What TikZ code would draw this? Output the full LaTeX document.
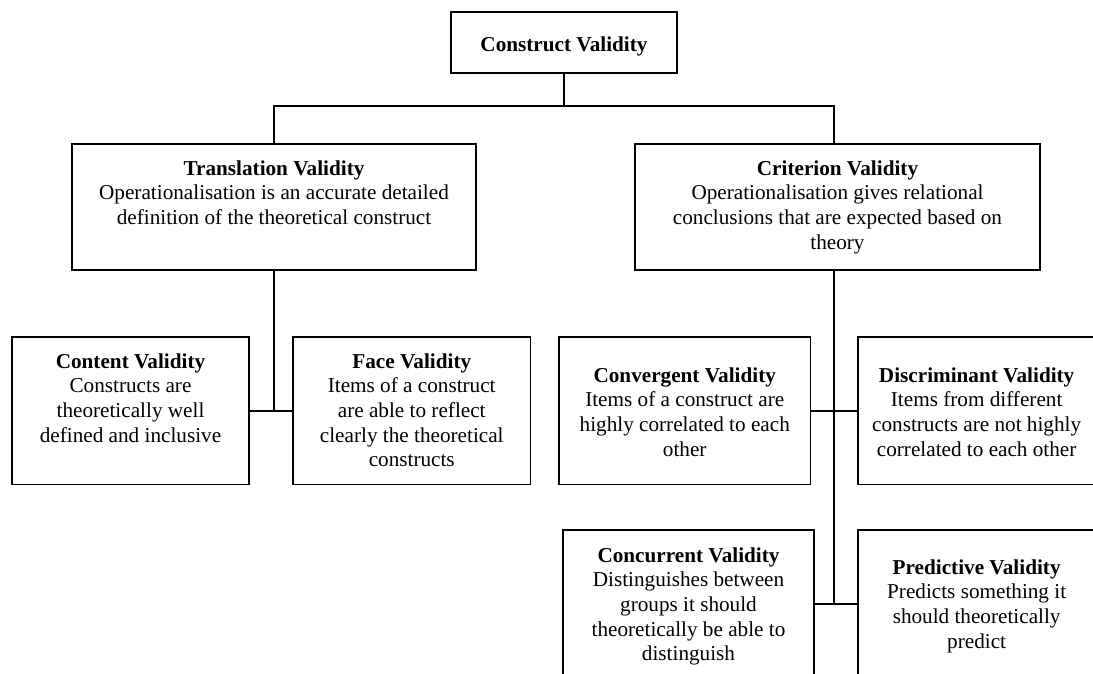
\documentclass[tikz,border=0pt]{standalone}
\usepackage{fontspec}
\setmainfont{Liberation Serif}
\begin{document}
\begin{tikzpicture}[x=1pt,y=-1pt,
  box/.style={draw, line width=1.9pt, inner sep=0pt, outer sep=0pt,
              minimum width=#1},
  txt/.style={anchor=north, align=center, inner sep=0pt,
              font=\fontsize{21.2}{24.6}\selectfont},
  link/.style={line width=1.9pt}]
\newcommand{\fs}{\rule{0pt}{17pt}}
\useasboundingbox (0,0) rectangle (1093,674);
\clip (0,0) rectangle (1093,674);

% boxes
\node[box=226pt, minimum height=61.3pt]   (construct)    at (564,42.35)   {};
\node[box=404pt, minimum height=126.8pt]  (translation)  at (274,207)     {};
\node[box=405pt, minimum height=126.8pt]  (criterion)    at (837.5,207)   {};
\node[box=237pt, minimum height=147.9pt]  (content)      at (130.5,410.55) {};
\node[box=237.5pt, minimum height=147.9pt](face)         at (411.75,410.55) {};
\node[box=251.5pt, minimum height=147.9pt](convergent)   at (684.75,410.55) {};
\node[box=236.7pt, minimum height=147.9pt](discriminant) at (976.65,410.55) {};
\node[box=251pt, minimum height=148pt]    (concurrent)   at (688.5,604)   {};
\node[box=236.7pt, minimum height=148pt]  (predictive)   at (976.65,604)  {};

% texts
\node[txt] (tconstruct) at (564,34.7) {\fs\textbf{Construct Validity}};
\node[txt] (ttranslation) at (274,158) {\fs\textbf{Translation Validity}\\
  Operationalisation is an accurate detailed\\
  definition of the theoretical construct};
\node[txt] (tcriterion) at (837.5,158) {\fs\textbf{Criterion Validity}\\
  Operationalisation gives relational\\
  conclusions that are expected based on\\
  theory};
\node[txt] (tcontent) at (130.5,351) {\fs\textbf{Content Validity}\\
  Constructs are\\ theoretically well\\ defined and inclusive};
\node[txt] (tface) at (411.75,351) {\fs\textbf{Face Validity}\\
  Items of a construct\\ are able to reflect\\ clearly the theoretical\\ constructs};
\node[txt] (tconvergent) at (684.75,365) {\fs\textbf{Convergent Validity}\\
  Items of a construct are\\ highly correlated to each\\ other};
\node[txt] (tdiscriminant) at (976.65,365) {\fs\textbf{Discriminant Validity}\\
  Items from different\\ constructs are not highly\\ correlated to each other};
\node[txt] (tconcurrent) at (688.5,545) {\fs\textbf{Concurrent Validity}\\
  Distinguishes between\\ groups it should\\ theoretically be able to\\ distinguish};
\node[txt] (tpredictive) at (976.65,557) {\fs\textbf{Predictive Validity}\\
  Predicts something it\\ should theoretically\\ predict};

% connectors
\coordinate (busL) at (274,106);
\coordinate (busR) at (834,106);
\draw[link] (construct.south) -- (construct.south |- busL);
\draw[link] (translation.north) -- (busL) -- (busR) -- (busR |- criterion.north);
\draw[link] (translation.south) -- (translation.south |- content.east);
\draw[link] (content.east) -- (face.west);
\draw[link] (busR |- criterion.south) -- (busR |- concurrent.east);
\draw[link] (convergent.east) -- (discriminant.west);
\draw[link] (concurrent.east) -- (predictive.west);
\end{tikzpicture}
\end{document}
